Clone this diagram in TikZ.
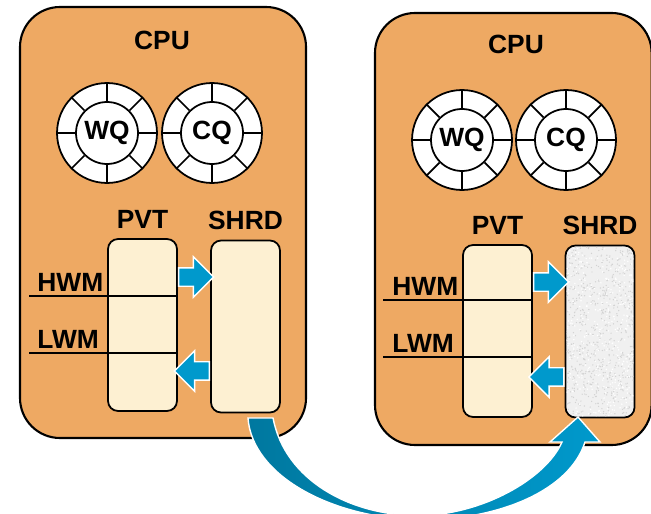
\documentclass[tikz,border=0pt]{standalone}
\usepackage{fontspec}
\setmainfont{Liberation Sans}
\usetikzlibrary{shapes.arrows,positioning,calc}

\definecolor{cpuorange}{HTML}{EEA963}
\definecolor{buffill}{HTML}{FDF0D2}
\definecolor{arrowblue}{HTML}{0099CC}
\definecolor{arrowdark}{HTML}{00789F}

\tikzset{
	cpubox/.style = {draw, line width=1.2pt, fill=cpuorange, rounded corners=0.8cm},
	lbl/.style = {font=\fontsize{15}{18}\selectfont\bfseries, inner sep=0pt},
	qout/.style = {circle, draw, fill=white, line width=1pt, minimum size=2cm, inner sep=0pt},
	qin/.style = {circle, draw, fill=white, line width=1pt, minimum size=1.24cm, inner sep=0pt, font=\fontsize{15}{18}\selectfont\bfseries},
	bufbox/.style = {draw, line width=1pt, fill=buffill, rounded corners=0.2cm, minimum width=1.38cm, minimum height=3.44cm},
	wmline/.style = {line width=1.3pt},
	pusharrow/.style = {single arrow, fill=arrowblue, draw=white, line width=0.8pt, minimum height=0.7cm, single arrow head extend=0.22cm, inner xsep=0pt, inner ysep=0.17cm}
}

% queue ring: name, centre, text
\newcommand{\qring}[3]{%
	\node[qout] (#1o) at (#2) {};
	\node[qin] (#1) at (#2) {#3};
	\foreach \a in {0,45,...,315} \draw[line width=1pt] (#1.\a) -- (#1o.\a);
}

\begin{document}
\begin{tikzpicture}[x = 0.02cm, y = -0.02cm]
	\useasboundingbox (0,0) rectangle (651,513);
	% left cpu
	\draw[cpubox] (20,7) rectangle (306,438);
	\node[lbl] (cpuL) at (162,40) {CPU};
	\qring{wqL}{107,133}{WQ}
	\qring{cqL}{212,133}{CQ}
	\node[bufbox] (pvtL) at (142.5,325) {};
	\node[bufbox] (shrdL) at (245.5,326.5) {};
	\node[lbl, above=5.5pt of pvtL] (pvtlblL) {PVT};
	\node[lbl, above=5.5pt of shrdL] (shrdlblL) {SHRD};
	\coordinate (hwmL) at (29,296);
	\coordinate (lwmL) at (29,353);
	\draw[wmline] (hwmL) -- (hwmL -| pvtL.east);
	\draw[wmline] (lwmL) -- (lwmL -| pvtL.east);
	\node[lbl, anchor=south west] (hwmtL) at ($(hwmL)+(8,-4)$) {HWM};
	\node[lbl, anchor=south west] (lwmtL) at ($(lwmL)+(8,-4)$) {LWM};
	\node[pusharrow, anchor=tail] (spillL) at ([yshift=0.96cm]pvtL.east) {};
	\node[pusharrow, shape border rotate=180, anchor=tail] (refillL) at ([yshift=-0.89cm]shrdL.west) {};
	% right cpu
	\draw[cpubox] (375,13) rectangle (651.6,445);
	\node[lbl] (cpuR) at (516,44) {CPU};
	\qring{wqR}{462,140}{WQ}
	\qring{cqR}{566,140}{CQ}
	\node[bufbox] (pvtR) at (497.5,331) {};
	\node[bufbox, fill=gray!12] (shrdR) at (600,331.5) {};
	\begin{scope}
		\clip[rounded corners=0.2cm] ([shift={(0.04cm,0.04cm)}]shrdR.south west) rectangle ([shift={(-0.04cm,-0.04cm)}]shrdR.north east);
		\pgfmathsetseed{11}
		\foreach \i in {1,...,700}
			\fill[gray!35] (600+35*rand,331.5+86*rand) circle (0.7);
		\foreach \i in {1,...,400}
			\fill[white] (600+35*rand,331.5+86*rand) circle (0.8);
	\end{scope}
	\node[lbl, above=5.5pt of pvtR] (pvtlblR) {PVT};
	\node[lbl, above=5.5pt of shrdR] (shrdlblR) {SHRD};
	\coordinate (hwmR) at (383,300);
	\coordinate (lwmR) at (383,357);
	\draw[wmline] (hwmR) -- (hwmR -| pvtR.east);
	\draw[wmline] (lwmR) -- (lwmR -| pvtR.east);
	\node[lbl, anchor=south west] (hwmtR) at ($(hwmR)+(9,-4)$) {HWM};
	\node[lbl, anchor=south west] (lwmtR) at ($(lwmR)+(9,-4)$) {LWM};
	\node[pusharrow, anchor=tail] (spillR) at ([yshift=0.98cm]pvtR.east) {};
	\node[pusharrow, shape border rotate=180, anchor=tail] (refillR) at ([yshift=-0.91cm]shrdR.west) {};
	% steal arrow
	\draw[white, line width=0.8pt, left color=arrowdark, right color=arrowblue]
		(248,418) .. controls (252,475) and (330,518) .. (420,520)
		.. controls (500,520) and (570,490) .. (585,442)
		-- (600,442) -- (578,417) -- (550,442) -- (562,442)
		.. controls (545,480) and (480,515.5) .. (418,515.5)
		.. controls (350,515.5) and (285,480) .. (273,418) -- cycle;
\end{tikzpicture}
\end{document}
